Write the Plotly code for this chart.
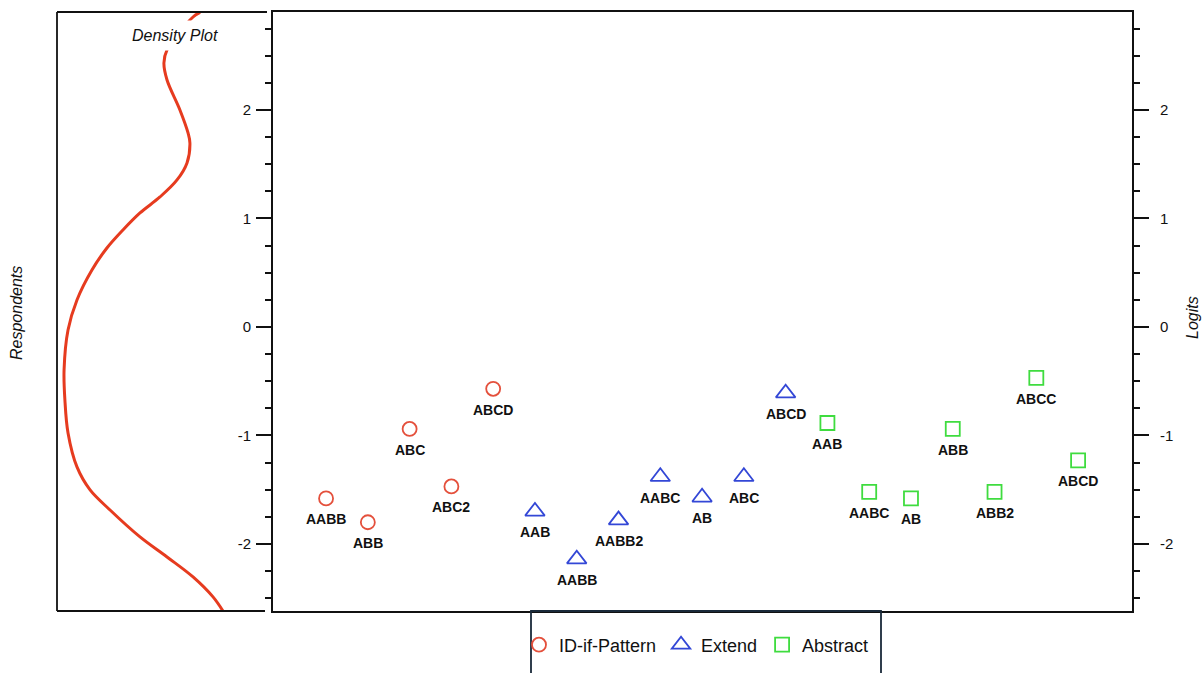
import plotly.graph_objects as go

W, H = 1202, 673

# ---- data ----
id_labels = ["AABB", "ABB", "ABC", "ABC2", "ABCD"]
id_pos = [0, 1, 2, 3, 4]
id_vals = [-1.58, -1.80, -0.94, -1.47, -0.57]

ext_labels = ["AAB", "AABB", "AABB2", "AABC", "AB", "ABC", "ABCD"]
ext_pos = [5, 6, 7, 8, 9, 10, 11]
ext_vals = [-1.70, -2.14, -1.78, -1.38, -1.57, -1.38, -0.61]

abs_labels = ["AAB", "AABC", "AB", "ABB", "ABB2", "ABCC", "ABCD"]
abs_pos = [12, 13, 14, 15, 16, 17, 18]
abs_vals = [-0.885, -1.52, -1.58, -0.94, -1.52, -0.47, -1.23]

dens_logit = [2.90, 2.857, 2.553, 2.433, 2.276, 2.0, 1.788, 1.696, 1.512, 1.355,
              1.198, 1.051, 0.894, 0.728, 0.525, 0.249, -0.028, -0.396, -0.673,
              -0.977, -1.290, -1.502, -1.687, -1.935, -2.120, -2.304, -2.488, -2.618]
dens_value = [0.688, 0.654, 0.529, 0.514, 0.529, 0.591, 0.630, 0.639, 0.625, 0.577,
              0.495, 0.399, 0.317, 0.240, 0.168, 0.096, 0.053, 0.034, 0.038,
              0.053, 0.096, 0.159, 0.255, 0.399, 0.529, 0.654, 0.750, 0.798]

y_ticks = [-2, -1, 0, 1, 2]
y_tick_labels = ["-2", "-1", "0", "1", "2"]

# ---- layout geometry (screen pixels -> paper) ----
def px(x):
    return x / W

def py(y):
    return (H - y) / H

main_x0, main_x1 = 273, 1132
top, bottom = 12, 611
dens_x0, dens_x1 = 57, 265

FONT = "Liberation Sans, Arial, sans-serif"
INK = "#111111"
RED = "#e4503c"
BLUE = "#3347d6"
GREEN = "#3fdc3f"
CURVE = "#e63b1f"

fig = go.Figure()

series = [
    ("ID-if-Pattern", id_pos, id_vals, id_labels, "circle-open", 14, RED),
    ("Extend", ext_pos, ext_vals, ext_labels, "triangle-up-open", 17, BLUE),
    ("Abstract", abs_pos, abs_vals, abs_labels, "square-open", 14, GREEN),
]

annotations = []
for name, xs, ys, labels, sym, size, col in series:
    fig.add_trace(go.Scatter(
        x=xs, y=ys, mode="markers", name=name,
        marker=dict(symbol=sym, size=size, color=col, line=dict(width=1.8, color=col)),
        xaxis="x", yaxis="y",
    ))
    for xv, yv, lab in zip(xs, ys, labels):
        annotations.append(dict(
            x=xv, y=yv, xref="x", yref="y", text=lab, showarrow=False,
            yshift=-21, xanchor="center", yanchor="middle",
            font=dict(family=FONT, size=14, color=INK, weight="bold"),
        ))

# invisible trace to activate right axis
fig.add_trace(go.Scatter(x=[0], y=[0], mode="markers", marker=dict(opacity=0),
                         showlegend=False, hoverinfo="skip", xaxis="x", yaxis="y2"))
# density curve
fig.add_trace(go.Scatter(
    x=dens_value, y=dens_logit, mode="lines", line=dict(color=CURVE, width=3, shape="spline"),
    showlegend=False, hoverinfo="skip", xaxis="x2", yaxis="y",
))

yr = [-2.618, 2.903]
axis_common = dict(
    range=yr, tickmode="array", tickvals=y_ticks, ticktext=y_tick_labels,
    ticks="outside", ticklen=15, tickwidth=1.8,
    tickcolor=INK, showline=True, linewidth=1.8, linecolor=INK,
    showgrid=False, zeroline=False,
    tickfont=dict(family=FONT, size=15, color=INK),
    minor=dict(dtick=0.25, tick0=0, ticks="outside", ticklen=6, tickwidth=1.8, tickcolor=INK),
)

annotations += [
    dict(text="<i>Density Plot</i>", xref="paper", yref="paper", x=px(175), y=py(35),
         showarrow=False, font=dict(family=FONT, size=16, color=INK),
         bgcolor="white", borderpad=6, xanchor="center", yanchor="middle"),
    dict(text="<i>Respondents</i>", xref="paper", yref="paper", x=px(16), y=py(313),
         showarrow=False, textangle=-90, font=dict(family=FONT, size=16, color=INK),
         xanchor="center", yanchor="middle"),
    dict(text="<i>Logits</i>", xref="paper", yref="paper", x=px(1192), y=py(318),
         showarrow=False, textangle=-90, font=dict(family=FONT, size=16, color=INK),
         xanchor="center", yanchor="middle"),
]

fig.update_layout(
    width=W, height=H,
    margin=dict(l=0, r=0, t=0, b=0),
    paper_bgcolor="white", plot_bgcolor="white",
    xaxis=dict(domain=[px(main_x0), px(main_x1)], range=[-1.27, 19.29],
               showline=True, mirror=True, linewidth=1.8, linecolor=INK,
               showticklabels=False, ticks="", showgrid=False, zeroline=False),
    xaxis2=dict(domain=[px(dens_x0), px(dens_x1)], range=[0, 1], anchor="y",
                showline=False, showticklabels=False, ticks="", showgrid=False, zeroline=False),
    yaxis=dict(domain=[py(bottom), py(top)], anchor="x", side="left",
               ticklabelstandoff=2, **axis_common),
    yaxis2=dict(domain=[py(bottom), py(top)], anchor="x", overlaying="y", side="right",
                ticklabelstandoff=8, **axis_common),
    showlegend=True,
    legend=dict(orientation="h", x=px(519), xanchor="left", y=py(645), yanchor="middle",
                font=dict(family=FONT, size=18, color=INK),
                bgcolor="rgba(0,0,0,0)", itemwidth=30),
    shapes=[
        # density panel frame (left, top, bottom)
        dict(type="line", xref="paper", yref="paper", x0=px(dens_x0), x1=px(dens_x0),
             y0=py(bottom), y1=py(top), line=dict(color=INK, width=1.8)),
        dict(type="line", xref="paper", yref="paper", x0=px(dens_x0), x1=px(267),
             y0=py(top), y1=py(top), line=dict(color=INK, width=1.8)),
        dict(type="line", xref="paper", yref="paper", x0=px(dens_x0), x1=px(dens_x1),
             y0=py(bottom), y1=py(bottom), line=dict(color=INK, width=1.8)),
        # legend box (runs off the bottom edge)
        dict(type="rect", xref="paper", yref="paper", x0=px(531), x1=px(881),
             y0=-0.2, y1=py(bottom), line=dict(color="#1a2a3a", width=1.8)),
    ],
    annotations=annotations,
)

# remove the default 8px page margin so the figure fills the window exactly
fig.write_html("out.html",
               config={"displayModeBar": False},
               post_script="document.body.style.margin='0';document.body.style.overflow='hidden';")
